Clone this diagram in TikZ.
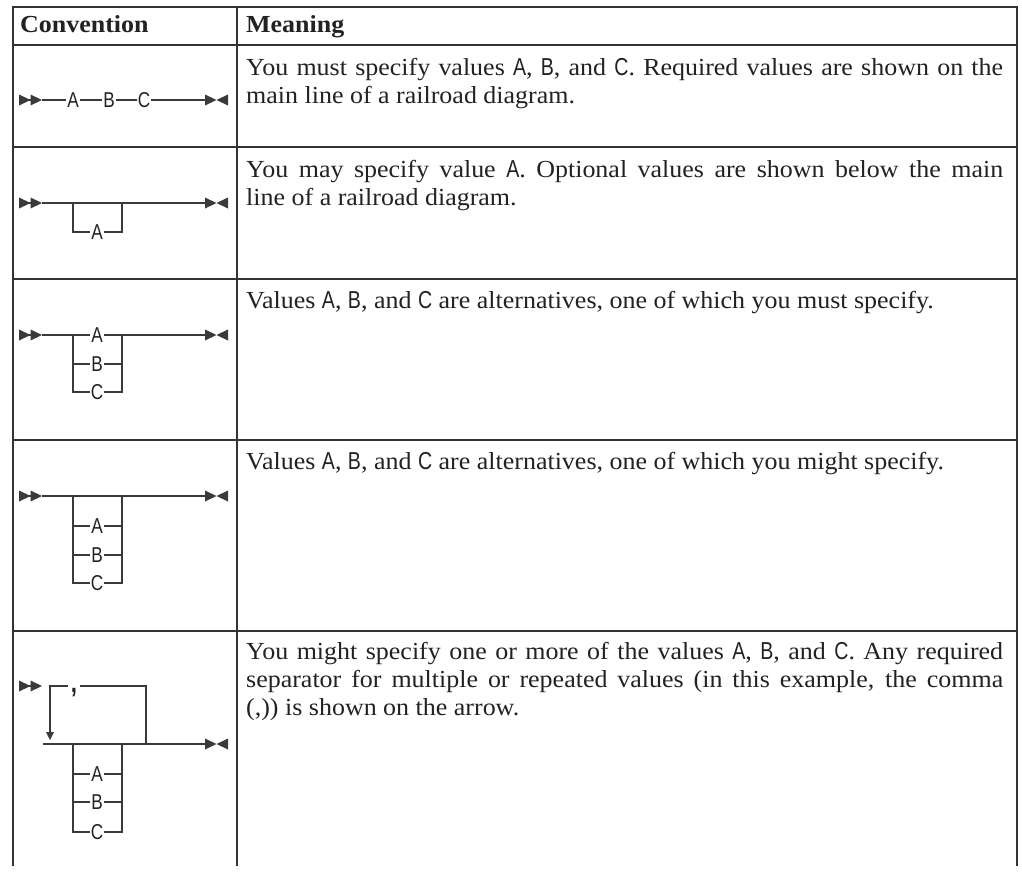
\documentclass[tikz,border=0pt]{standalone}
\usepackage{fontspec}
\setmainfont[FakeStretch=1.06]{Liberation Serif}
\newfontfamily\rrfont[FakeStretch=0.8]{Liberation Sans}
\usetikzlibrary{arrows.meta}
\definecolor{rulec}{HTML}{333333}
\definecolor{railc}{HTML}{3A3A3A}
\definecolor{ink}{HTML}{222222}
\newcommand{\cv}[1]{{\rrfont #1}}

\begin{document}
\begin{tikzpicture}[x=1pt,y=-1pt,
  tbl/.style={draw=rulec,line width=2pt},
  rail/.style={draw=railc,line width=1.6pt},
  rrlab/.style={font=\rrfont\fontsize{21.5}{21.5}\selectfont,inner sep=1pt,text height=15pt,text depth=0pt,text=ink},
  cell/.style={anchor=north west,inner sep=0pt,text width=757pt,align=justify,font=\fontsize{24.5}{28}\selectfont,text=ink},
  head/.style={anchor=base west,inner sep=0pt,font=\bfseries\fontsize{24.5}{28}\selectfont,text=ink},
  go/.style={-{Triangle[length=11.5pt,width=11pt,sep=0pt,line width=0pt]Triangle[length=11.5pt,width=11pt,line width=0pt]}},
  stop/.style={-{Triangle[length=11.5pt,width=11pt,line width=0pt]}},
  loopback/.style={-{Triangle[length=8pt,width=8pt,line width=0pt]}}]
\useasboundingbox (0,0) rectangle (1022,875);

% table frame
\draw[tbl] (13,866) -- (13,7) -- (1017,7) -- (1017,866);
\draw[tbl] (237,7) -- (237,866);
\foreach \y in {45,147,279,440,631}
  \draw[tbl] (13,\y) -- (1017,\y);

\node[head] (hconv) at (20,33) {Convention};
\node[head] (hmean) at (246,33) {Meaning};

% row 1: required values
\coordinate (r1in) at (19,100);
\coordinate (r1go) at (42,100);
\node[rrlab] (r1a) at (73,100) {A};
\node[rrlab] (r1b) at (109,100) {B};
\node[rrlab] (r1c) at (144,100) {C};
\coordinate (r1end) at (216.5,100);
\coordinate (r1out) at (228,100);
\draw[rail,go] (r1in) -- (r1go);
\draw[rail,stop] (r1go) -- (r1a) -- (r1b) -- (r1c) -- (r1end);
\draw[rail,stop] (r1out) -- (r1end);
\node[cell] (t1) at (246,55.4) {\strut You must specify values \cv{A}, \cv{B}, and \cv{C}. Required values are shown on the\linebreak
main line of a railroad diagram.};

% row 2: optional value
\coordinate (r2in) at (19,203);
\coordinate (r2go) at (42,203);
\coordinate (r2l) at (73,203);
\coordinate (r2r) at (122,203);
\node[rrlab] (r2a) at (97,232) {A};
\coordinate (r2end) at (216.5,203);
\coordinate (r2out) at (228,203);
\draw[rail,go] (r2in) -- (r2go);
\draw[rail,stop] (r2go) -- (r2end);
\draw[rail,stop] (r2out) -- (r2end);
\draw[rail] (r2l) |- (r2a) -| (r2r);
\node[cell] (t2) at (246,157.4) {\strut You may specify value \cv{A}. Optional values are shown below the main\linebreak
line of a railroad diagram.};

% row 3: required choice
\coordinate (r3in) at (19,335);
\coordinate (r3go) at (42,335);
\coordinate (r3l) at (73,335);
\coordinate (r3r) at (122,335);
\node[rrlab] (r3a) at (97,335) {A};
\node[rrlab] (r3b) at (97,364) {B};
\node[rrlab] (r3c) at (97,392) {C};
\coordinate (r3end) at (216.5,335);
\coordinate (r3out) at (228,335);
\draw[rail,go] (r3in) -- (r3go);
\draw[rail,stop] (r3go) -- (r3a) -- (r3end);
\draw[rail,stop] (r3out) -- (r3end);
\draw[rail] (r3l) |- (r3b) -| (r3r);
\draw[rail] (r3l) |- (r3c) -| (r3r);
\node[cell] (t3) at (246,288.4) {\strut Values \cv{A}, \cv{B}, and \cv{C} are alternatives, one of which you must specify.};

% row 4: optional choice
\coordinate (r4in) at (19,496);
\coordinate (r4go) at (42,496);
\coordinate (r4l) at (73,496);
\coordinate (r4r) at (122,496);
\node[rrlab] (r4a) at (97,526) {A};
\node[rrlab] (r4b) at (97,555) {B};
\node[rrlab] (r4c) at (97,583) {C};
\coordinate (r4end) at (216.5,496);
\coordinate (r4out) at (228,496);
\draw[rail,go] (r4in) -- (r4go);
\draw[rail,stop] (r4go) -- (r4end);
\draw[rail,stop] (r4out) -- (r4end);
\draw[rail] (r4l) |- (r4a) -| (r4r);
\draw[rail] (r4l) |- (r4b) -| (r4r);
\draw[rail] (r4l) |- (r4c) -| (r4r);
\node[cell] (t4) at (246,449.4) {\strut Values \cv{A}, \cv{B}, and \cv{C} are alternatives, one of which you might specify.};

% row 5: repeat with separator
\coordinate (r5in) at (19,686);
\coordinate (r5go) at (42,686);
\coordinate (r5m) at (43,744);
\coordinate (r5l) at (73,744);
\coordinate (r5r) at (122,744);
\coordinate (r5back) at (146,744);
\coordinate (r5tip) at (50,740);
\node[rrlab,font=\rrfont\bfseries\fontsize{28}{28}\selectfont,text height=0pt,text depth=0pt,inner sep=0pt,minimum width=12pt] (r5sep) at (74,686) {\raisebox{-6pt}{,}};
\node[rrlab] (r5a) at (97,774) {A};
\node[rrlab] (r5b) at (97,802) {B};
\node[rrlab] (r5c) at (97,832) {C};
\coordinate (r5end) at (216.5,744);
\coordinate (r5out) at (228,744);
\draw[rail,go] (r5in) -- (r5go);
\draw[rail] (r5back) |- (r5sep);
\draw[rail,loopback] (r5sep) -| (r5tip);
\draw[rail,stop] (r5m) -- (r5end);
\draw[rail,stop] (r5out) -- (r5end);
\draw[rail] (r5l) |- (r5a) -| (r5r);
\draw[rail] (r5l) |- (r5b) -| (r5r);
\draw[rail] (r5l) |- (r5c) -| (r5r);
\node[cell] (t5) at (246,639.4) {\strut You might specify one or more of the values \cv{A}, \cv{B}, and \cv{C}. Any required\linebreak
separator for multiple or repeated values (in this example, the comma\linebreak
(,)) is shown on the arrow.};
\end{tikzpicture}
\end{document}
